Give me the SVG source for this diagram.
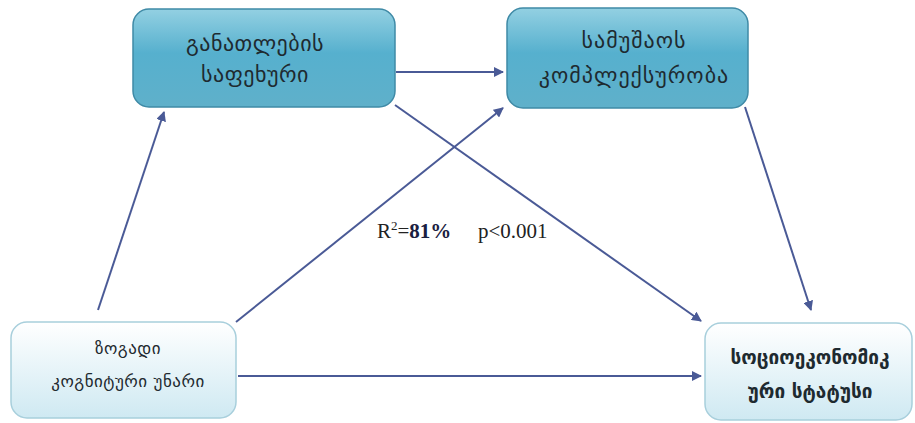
<svg xmlns="http://www.w3.org/2000/svg" width="915" height="423" viewBox="0 0 915 423">
<defs>
<linearGradient id="dark" x1="0" y1="0" x2="0" y2="1">
<stop offset="0" stop-color="#93d0e2"/>
<stop offset="0.45" stop-color="#56b0ce"/>
<stop offset="1" stop-color="#5fb0ca"/>
</linearGradient>
<linearGradient id="light" x1="0" y1="0" x2="0" y2="1">
<stop offset="0" stop-color="#ffffff"/>
<stop offset="1" stop-color="#cfe9f2"/>
</linearGradient>
<marker id="ah" viewBox="0 0 10 10" refX="9" refY="5" markerWidth="5" markerHeight="5" orient="auto" markerUnits="strokeWidth">
<path d="M0,0 L10,5 L0,10 z" fill="#4a5a96"/>
</marker>
</defs>
<style>
.dk{fill:url(#dark);stroke:#3f8aa6;stroke-width:1.5}
.lt{fill:url(#light);stroke:#a8cfdc;stroke-width:1.5}
.t{font-family:"DejaVu Sans","Noto Sans",sans-serif;fill:#1e2a30;text-anchor:middle}
.c line{stroke:#4a5a96;stroke-width:2;marker-end:url(#ah)}
</style>
<rect width="915" height="423" fill="#ffffff"/>
<g class="c" id="connectors">
<line x1="98" y1="310" x2="164" y2="112"/>
<line x1="236" y1="322" x2="503" y2="108"/>
<line x1="238" y1="376" x2="701" y2="376"/>
<line x1="396" y1="72" x2="503" y2="72"/>
<line x1="395" y1="105" x2="701" y2="321"/>
<line x1="745" y1="107" x2="811" y2="310"/>
</g>
<g id="n1">
<rect class="dk" x="133" y="9" width="262" height="98" rx="16"/>
<text class="t" x="255" y="51" font-size="22" letter-spacing="0.5">განათლების</text>
<text class="t" x="255" y="82" font-size="22" letter-spacing="0.5">საფეხური</text>
</g>
<g id="n2">
<rect class="dk" x="507" y="8" width="241" height="100" rx="16"/>
<text class="t" x="634" y="48" font-size="22" letter-spacing="1">სამუშაოს</text>
<text class="t" x="634" y="83" font-size="22" letter-spacing="1">კომპლექსურობა</text>
</g>
<g id="n3">
<rect class="lt" x="11" y="322" width="225" height="96" rx="16"/>
<text class="t" x="128" y="354" font-size="17" letter-spacing="0.5">ზოგადი</text>
<text class="t" x="128" y="387" font-size="17" letter-spacing="0.5">კოგნიტური უნარი</text>
</g>
<g id="n4">
<rect class="lt" x="705" y="323" width="207" height="97" rx="16"/>
<text class="t" x="810" y="364" font-size="19" font-weight="bold">სოციოეკონომიკ</text>
<text class="t" x="810" y="398" font-size="19" font-weight="bold">ური სტატუსი</text>
</g>
<g id="label">
<text x="377" y="238" font-family="'Liberation Serif',serif" font-size="21" fill="#222">R<tspan dy="-8" font-size="13">2</tspan><tspan dy="8">=</tspan><tspan font-weight="bold" fill="#1a2040">81%</tspan><tspan x="478">p&lt;0.001</tspan></text>
</g>
</svg>
